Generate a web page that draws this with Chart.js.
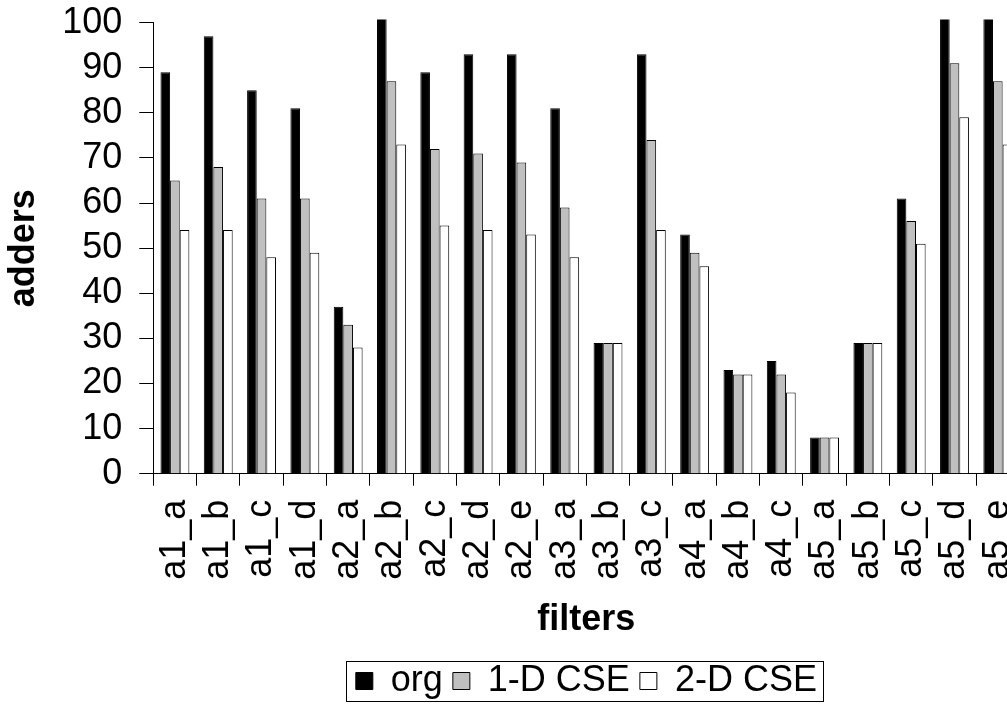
<!DOCTYPE html>
<html>
<head>
<meta charset="utf-8">
<script src="https://cdn.jsdelivr.net/npm/chart.js@4.4.1/dist/chart.umd.min.js"></script>
<style>
  html, body { margin: 0; padding: 0; background: #fff; overflow: hidden; }
  /* o grafico original e cortado na direita e no topo, por isso o canvas e maior que a janela */
  #wrap { width: 1055px; height: 724px; position: relative; top: -16px; }
</style>
</head>
<body>
<div id="wrap"><canvas id="chartCanvas"></canvas></div>
<script>
// filtros (categorias do eixo x)
const filters = ['a1_a', 'a1_b', 'a1_c', 'a1_d', 'a2_a', 'a2_b', 'a2_c', 'a2_d', 'a2_e',
                 'a3_a', 'a3_b', 'a3_c', 'a4_a', 'a4_b', 'a4_c', 'a5_a', 'a5_b', 'a5_c', 'a5_d', 'a5_e'];

// numero de somadores por serie (valores acima de 100 aparecem cortados no original)
const orgAdders = [89, 97, 85, 81, 37, 104, 89, 93, 93, 81, 29, 93, 53, 23, 25, 8, 29, 61, 104, 104];
const cse1dAdders = [65, 68, 61, 61, 33, 87, 72, 71, 69, 59, 29, 74, 49, 22, 22, 8, 29, 56, 91, 87];
const cse2dAdders = [54, 54, 48, 49, 28, 73, 55, 54, 53, 48, 29, 54, 46, 22, 18, 8, 29, 51, 79, 73];

const seriesNames = ['org', '1-D CSE', '2-D CSE'];
const yTicks = [0, 10, 20, 30, 40, 50, 60, 70, 80, 90, 100];

const fonte = "Arial, 'Liberation Sans', sans-serif";

// borda em volta da legenda
const bordaLegenda = {
    id: 'bordaLegenda',
    afterDraw(chart) {
        const caixas = chart.legend.legendHitBoxes;
        if (!caixas || !caixas.length) return;
        const esq = Math.min(...caixas.map(b => b.left));
        const dir = Math.max(...caixas.map(b => b.left + b.width));
        const topo = Math.min(...caixas.map(b => b.top));
        const base = Math.max(...caixas.map(b => b.top + b.height));
        const ctx = chart.ctx;
        ctx.save();
        ctx.strokeStyle = '#000';
        ctx.lineWidth = 1;
        ctx.strokeRect(Math.round(esq - 10) + 0.5, Math.round(topo - 2) + 0.5, Math.round(dir - esq + 16), Math.round(base - topo + 4));
        ctx.restore();
    }
};

function criarGrafico() {
    const ctx = document.getElementById('chartCanvas');

    new Chart(ctx, {
        type: 'bar',
        data: {
            labels: filters,
            datasets: [{
                label: seriesNames[0],
                data: orgAdders,
                backgroundColor: '#000000',
                borderColor: '#000000',
                borderWidth: 1,
                clip: 3
            }, {
                label: seriesNames[1],
                data: cse1dAdders,
                backgroundColor: '#c0c0c0',
                borderColor: '#000000',
                borderWidth: 1,
                clip: 3
            }, {
                label: seriesNames[2],
                data: cse2dAdders,
                backgroundColor: '#ffffff',
                borderColor: '#000000',
                borderWidth: 1,
                clip: 3
            }]
        },
        options: {
            responsive: true,
            maintainAspectRatio: false,
            animation: false,
            layout: {
                padding: { left: 0, right: 0, top: 0, bottom: -1 }
            },
            datasets: {
                bar: {
                    barPercentage: 1,
                    categoryPercentage: 0.667
                }
            },
            scales: {
                y: {
                    min: 0,
                    max: 100,
                    afterBuildTicks: function (scale) {
                        scale.ticks = yTicks.map(v => ({ value: v }));
                    },
                    border: { display: true, color: '#000', width: 1 },
                    grid: {
                        drawOnChartArea: false,
                        drawTicks: true,
                        tickLength: 14,
                        color: '#000'
                    },
                    ticks: {
                        color: '#000',
                        autoSkip: false,
                        padding: 17,
                        font: { family: fonte, size: 36 }
                    },
                    title: {
                        display: true,
                        text: 'adders',
                        color: '#000',
                        padding: { top: 2, bottom: 0 },
                        font: { family: fonte, size: 36, weight: 'bold' }
                    }
                },
                x: {
                    border: { display: true, color: '#000', width: 1 },
                    grid: {
                        offset: true,
                        drawOnChartArea: false,
                        drawTicks: true,
                        tickLength: 12,
                        color: '#000'
                    },
                    ticks: {
                        color: '#000',
                        autoSkip: false,
                        minRotation: 90,
                        maxRotation: 90,
                        padding: 14,
                        font: { family: fonte, size: 36 }
                    },
                    title: {
                        display: true,
                        text: 'filters',
                        color: '#000',
                        padding: { top: 5, bottom: 11 },
                        font: { family: fonte, size: 36, weight: 'bold' }
                    }
                }
            },
            plugins: {
                legend: {
                    display: true,
                    position: 'bottom',
                    fullSize: false,
                    labels: {
                        color: '#000',
                        boxWidth: 17,
                        boxHeight: 17,
                        padding: 10,
                        font: { family: fonte, size: 36 }
                    }
                },
                tooltip: { enabled: false }
            }
        },
        plugins: [bordaLegenda]
    });
}

window.addEventListener('load', criarGrafico);
</script>
</body>
</html>
